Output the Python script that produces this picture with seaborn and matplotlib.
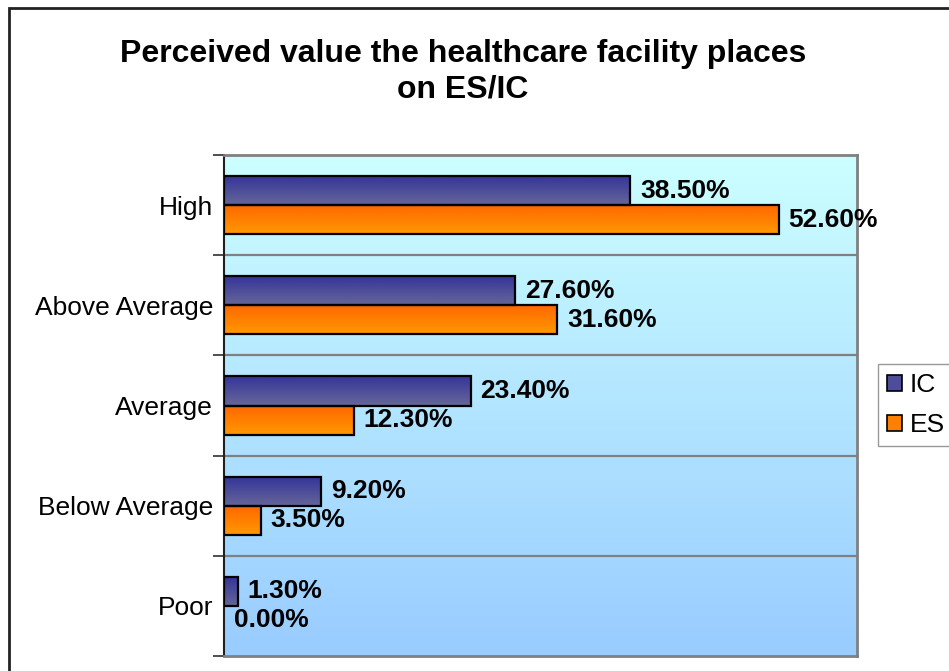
import numpy as np
import pandas as pd
import matplotlib
matplotlib.use('Agg')
import matplotlib.pyplot as plt
import matplotlib.colors as mcolors
from matplotlib.patches import Patch, Rectangle
import seaborn as sns

sns.set_style("white")
plt.rcParams['font.family'] = ['Liberation Sans', 'DejaVu Sans']
plt.rcParams['text.color'] = 'black'
plt.rcParams['axes.labelcolor'] = 'black'

# data
categories = ['High', 'Above Average', 'Average', 'Below Average', 'Poor']
series = ['IC', 'ES']
ic_values = [38.5, 27.6, 23.4, 9.2, 1.3]
es_values = [52.6, 31.6, 12.3, 3.5, 0.0]
title = 'Perceived value the healthcare facility places\non ES/IC'

# gradient colours (top -> bottom)
grad = {
    'IC': ('#333399', '#666699'),
    'ES': ('#FF6600', '#FF9900'),
}
bg_grad = ('#CCFFFF', '#99CCFF')

df = pd.DataFrame({
    'category': categories * 2,
    'value': ic_values + es_values,
    'series': ['IC'] * len(categories) + ['ES'] * len(categories),
})


def vgrad(c_top, c_bot, n=256):
    a = np.array(mcolors.to_rgb(c_top))
    b = np.array(mcolors.to_rgb(c_bot))
    t = np.linspace(0, 1, n)[:, None]
    return (a + (b - a) * t)[:, None, :]


fig = plt.figure(figsize=(9.49, 6.71), dpi=100)
W, H = 949, 671
ax = fig.add_axes([224 / W, 1 - 656 / H, (857 - 224) / W, (656 - 155) / H])

sns.barplot(data=df, y='category', x='value', hue='series', hue_order=series,
            order=categories, orient='h', width=0.58, ax=ax, legend=False)

ax.set_xlim(0, 60)
ax.set_ylim(len(categories) - 0.5, -0.5)

# background gradient
ax.imshow(vgrad(*bg_grad), extent=(0, 60, len(categories) - 0.5, -0.5),
          origin='upper', aspect='auto', zorder=0)

# bars with gradient fill
for cont, name in zip(ax.containers, series):
    for p in cont.patches:
        x0, y0 = p.get_x(), p.get_y()
        w, h = p.get_width(), p.get_height()
        p.set_facecolor('none')
        p.set_edgecolor('black')
        p.set_linewidth(1.6 if w > 0 else 0)
        p.set_zorder(4)
        if w > 0:
            ax.imshow(vgrad(*grad[name]), extent=(x0, x0 + w, y0 + h, y0),
                      origin='upper', aspect='auto', zorder=3)
    ax.bar_label(cont, labels=[f'{v:.2f}%' for v in cont.datavalues],
                 padding=7, fontsize=19, fontweight='bold', color='black',
                 zorder=5)

ax.set_xlim(0, 60)
ax.set_ylim(len(categories) - 0.5, -0.5)

# grid lines at category boundaries
bounds = np.arange(-0.5, len(categories) + 0.5, 1)
for b in bounds[1:-1]:
    ax.axhline(b, color='#808080', lw=1.6, zorder=1)
ax.set_yticks(bounds, minor=True)
ax.tick_params(axis='y', which='minor', length=8, width=1.3, color='#404040',
               left=True, direction='out')
ax.tick_params(axis='y', which='major', length=0, pad=8, labelsize=19,
               labelcolor='black')
ax.set_xticks([])
ax.set_xlabel('')
ax.set_ylabel('')

for s in ['top', 'right', 'bottom']:
    ax.spines[s].set_color('#808080')
    ax.spines[s].set_linewidth(2)
ax.spines['left'].set_color('#202020')
ax.spines['left'].set_linewidth(1.5)

# legend
handles = [Patch(facecolor=mcolors.to_hex(vgrad(*grad[s], n=3)[1, 0]),
                 edgecolor='black', lw=1.2, label=s) for s in series]
fig.legend(handles=handles, loc='upper left', bbox_to_anchor=(878 / W, 1 - 364 / H),
           fontsize=19, frameon=True, fancybox=False, edgecolor='#808080',
           handlelength=0.55, handleheight=0.55, handletextpad=0.3,
           labelspacing=0.6, borderpad=0.35, borderaxespad=0)

fig.text(463 / W, 1 - 39 / H, title, ha='center', va='top', fontsize=23,
         fontweight='bold', linespacing=1.25)

# outer chart border
fig.patches.append(Rectangle((9 / W, -0.05), 1.0, (H - 8) / H + 0.05,
                             transform=fig.transFigure, fill=False,
                             edgecolor='#222222', lw=2))

fig.savefig('out.png', dpi=100)
